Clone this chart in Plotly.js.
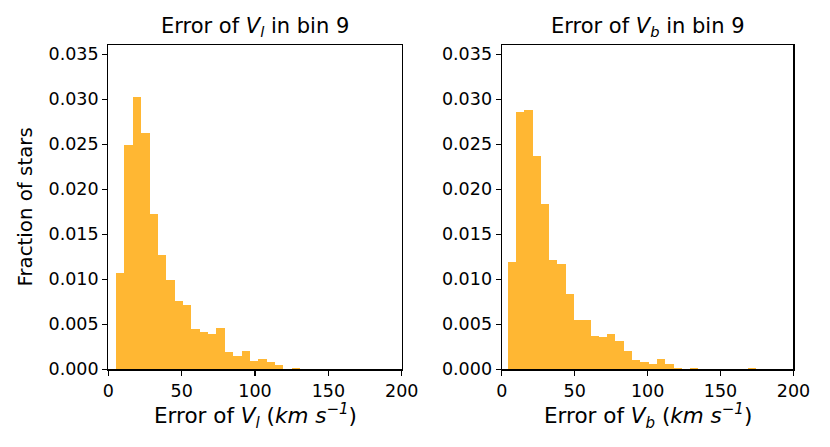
<!DOCTYPE html>
<html>
<head>
<meta charset="utf-8">
<script src="https://cdn.plot.ly/plotly-3.0.1.min.js"></script>
<style>html,body{margin:0;padding:0;background:#fff;}#chart{width:830px;height:447px;}</style>
</head>
<body>
<div id="chart"></div>
<script>
// Histogram of V_l errors (bin 9): fraction of stars per bin
const binStartL = 5.25;
const binWidthL = 5.707;
const fracL = [0.0107, 0.0249, 0.0302, 0.0263, 0.01725, 0.01275, 0.00994, 0.00757, 0.00713, 0.00447,
               0.00417, 0.00388, 0.00462, 0.00196, 0.00151, 0.00200, 0.00094, 0.00110, 0.00077, 0.00048,
               0, 0.00015];
// Histogram of V_b errors (bin 9)
const binStartB = 4.1;
const binWidthB = 5.683;
const fracB = [0.01193, 0.02856, 0.02882, 0.02372, 0.01833, 0.01219, 0.01171, 0.00835, 0.00547, 0.00547,
               0.00369, 0.00355, 0.00388, 0.00318, 0.00203, 0.00103, 0.00085, 0.00054, 0.00120, 0.00060,
               0.00015, 0, 0.00015, 0, 0, 0, 0, 0, 0, 0.00015];
const xTicks = [0, 50, 100, 150, 200];
const yTicks = [0, 0.005, 0.010, 0.015, 0.020, 0.025, 0.030, 0.035];

function centers(start, width, n) {
  const c = [];
  for (let i = 0; i < n; i++) c.push(start + (i + 0.5) * width);
  return c;
}

const barColor = 'rgba(255,165,0,0.8)';
const traces = [
  {type: 'bar', x: centers(binStartL, binWidthL, fracL.length), y: fracL, width: binWidthL,
   marker: {color: barColor, line: {width: 0}}, xaxis: 'x', yaxis: 'y', hoverinfo: 'x+y'},
  {type: 'bar', x: centers(binStartB, binWidthB, fracB.length), y: fracB, width: binWidthB,
   marker: {color: barColor, line: {width: 0}}, xaxis: 'x2', yaxis: 'y2', hoverinfo: 'x+y'}
];

const font = {family: 'DejaVu Sans, sans-serif', color: '#000'};
const tickSize = 17.5, labelSize = 21.5, ylabelSize = 19.8, titleSize = 21;
function xax(domain, anchor) {
  return {domain: domain, anchor: anchor, range: [0, 200], tickvals: xTicks,
    showline: true, mirror: true, linecolor: '#000', linewidth: 1.2,
    ticks: 'outside', ticklen: 5, tickwidth: 1.2, tickcolor: '#000',
    showgrid: false, zeroline: false, tickfont: Object.assign({size: tickSize}, font)};
}
function yax(anchor) {
  return {domain: [0.1738, 0.8987], anchor: anchor, range: [0, 0.036], tickvals: yTicks,
    tickformat: '.3f', showline: true, mirror: true, linecolor: '#000', linewidth: 1.2,
    ticks: 'outside', ticklen: 5, tickwidth: 1.2, tickcolor: '#000',
    showgrid: false, zeroline: false, tickfont: Object.assign({size: tickSize}, font)};
}
const dL = [0.1305, 0.4840], dB = [0.6045, 0.9560];
const layout = {
  width: 830, height: 447,
  margin: {l: 0, r: 0, t: 0, b: 0},
  paper_bgcolor: '#fff', plot_bgcolor: '#fff',
  showlegend: false, bargap: 0,
  xaxis: xax(dL, 'y'), yaxis: yax('x'),
  xaxis2: xax(dB, 'y2'), yaxis2: yax('x2'),
  annotations: [
    {text: 'Error of <i>V<sub>l</sub></i> in bin 9', xref: 'paper', yref: 'paper',
     x: (dL[0] + dL[1]) / 2, y: 0.9396, xanchor: 'center', yanchor: 'middle', showarrow: false,
     font: Object.assign({size: titleSize}, font)},
    {text: 'Error of <i>V<sub>b</sub></i> in bin 9', xref: 'paper', yref: 'paper',
     x: (dB[0] + dB[1]) / 2, y: 0.9396, xanchor: 'center', yanchor: 'middle', showarrow: false,
     font: Object.assign({size: titleSize}, font)},
    {text: 'Error of <i>V<sub>l</sub></i> (<i>km s<sup>−1</sup></i>)', xref: 'paper', yref: 'paper',
     x: (dL[0] + dL[1]) / 2, y: 0.0694, xanchor: 'center', yanchor: 'middle', showarrow: false,
     font: Object.assign({size: labelSize}, font)},
    {text: 'Error of <i>V<sub>b</sub></i> (<i>km s<sup>−1</sup></i>)', xref: 'paper', yref: 'paper',
     x: (dB[0] + dB[1]) / 2, y: 0.0694, xanchor: 'center', yanchor: 'middle', showarrow: false,
     font: Object.assign({size: labelSize}, font)},
    {text: 'Fraction of stars', xref: 'paper', yref: 'paper', textangle: -90,
     x: 0.0313, y: 0.538, xanchor: 'center', yanchor: 'middle', showarrow: false,
     font: Object.assign({size: ylabelSize}, font)}
  ]
};
Plotly.newPlot('chart', traces, layout, {displayModeBar: false, staticPlot: true});
</script>
</body>
</html>
